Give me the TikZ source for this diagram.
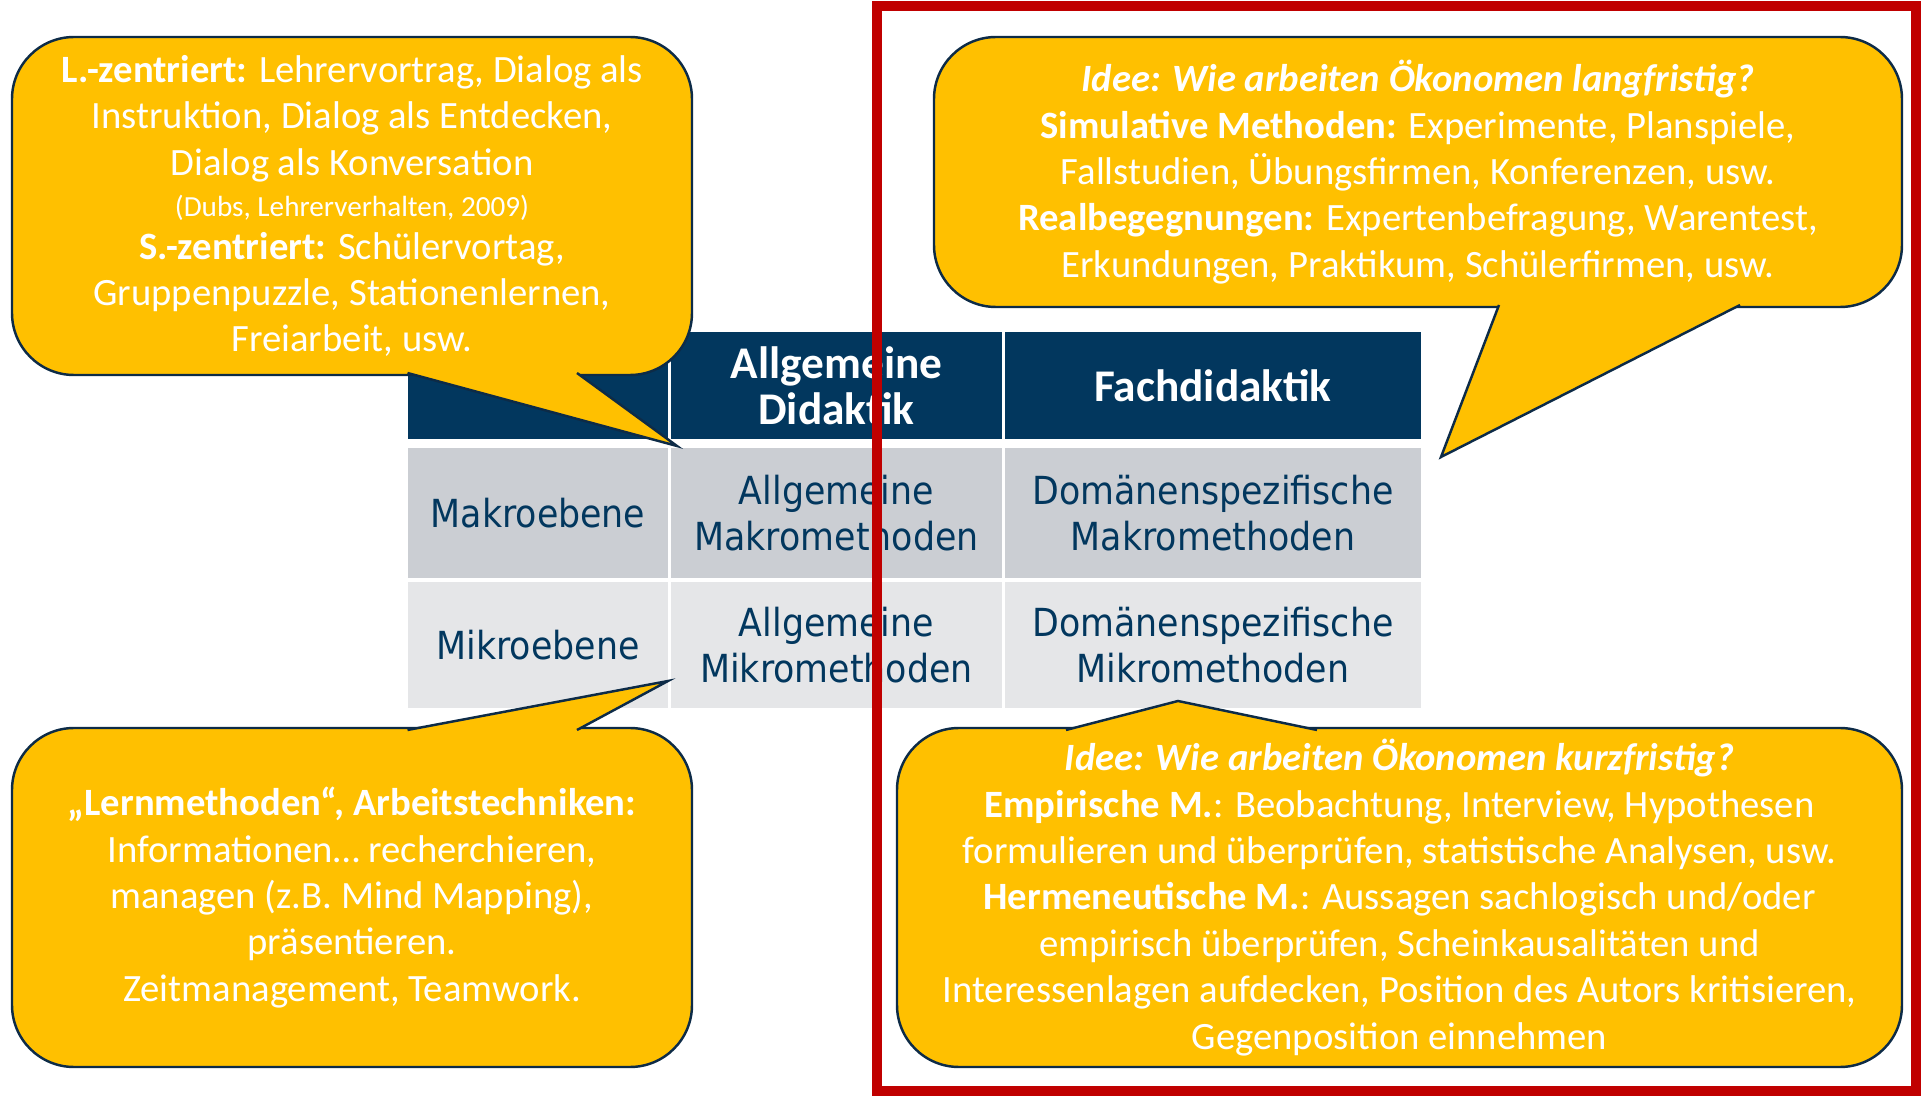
\documentclass[tikz,border=0pt]{standalone}
\usepackage{fontspec}
\setmainfont{Carlito}
\newfontfamily\tabfont{DejaVu Sans}[FakeStretch=0.9]

\definecolor{gold}{HTML}{FFC000}
\definecolor{navyline}{HTML}{0D2B47}
\definecolor{headblue}{HTML}{02375E}
\definecolor{makgray}{HTML}{CBCED3}
\definecolor{mikgray}{HTML}{E5E6E8}
\definecolor{framered}{HTML}{C00000}

\begin{document}
\begin{tikzpicture}[
    headcell/.style={fill=headblue, text=white, inner sep=0pt, align=center, minimum height=1.07cm, font=\bfseries\fontsize{12.9}{13.2}\selectfont},
    makcell/.style={fill=makgray, text=headblue, inner sep=0pt, align=center, minimum height=1.30cm, font=\tabfont\fontsize{11}{13.2}\selectfont},
    mikcell/.style={fill=mikgray, text=headblue, inner sep=0pt, align=center, minimum height=1.26cm, font=\tabfont\fontsize{11}{13.2}\selectfont},
    bubble/.style={draw=navyline, fill=gold, line width=0.7pt, rounded corners=0.62cm, text=white, inner sep=0pt, align=center, font=\fontsize{11}{13.2}\selectfont},
    tail/.style={draw=navyline, fill=gold, line width=0.7pt, line join=miter},
    redframe/.style={draw=framered, line width=0.1cm}
  ]
  \useasboundingbox (0,0) rectangle (19.21,10.96);

  % table
  \node[headcell, minimum width=2.60cm] (hd0) at (5.38,7.105) {};
  \node[headcell, minimum width=3.31cm] (hd1) at (8.365,7.105) {Allgemeine\\Didaktik};
  \node[headcell, minimum width=4.16cm] (hd2) at (12.13,7.105) {Fachdidaktik};

  \node[makcell, minimum width=2.60cm] (mak0) at (5.38,5.83) {Makroebene};
  \node[makcell, minimum width=3.31cm] (mak1) at (8.365,5.83) {Allgemeine\\Makromethoden};
  \node[makcell, minimum width=4.16cm] (mak2) at (12.13,5.83) {Domänenspezifische\\Makromethoden};

  \node[mikcell, minimum width=2.60cm] (mik0) at (5.38,4.51) {Mikroebene};
  \node[mikcell, minimum width=3.31cm] (mik1) at (8.365,4.51) {Allgemeine\\Mikromethoden};
  \node[mikcell, minimum width=4.16cm] (mik2) at (12.13,4.51) {Domänenspezifische\\Mikromethoden};

  % callouts
  \node[bubble, minimum width=6.80cm, minimum height=3.38cm] (lehrer) at (3.52,8.90)
    {\textbf{L.-zentriert:} Lehrervortrag, Dialog als\\
     Instruktion, Dialog als Entdecken,\\
     Dialog als Konversation\\[-1.5pt]
     {\fontsize{8.3}{9}\selectfont (Dubs, Lehrerverhalten, 2009)}\\[-1pt]
     \textbf{S.-zentriert:} Schülervortag,\\
     Gruppenpuzzle, Stationenlernen,\\
     Freiarbeit, usw.};
  \coordinate (lehrertip) at (6.77,6.50);
  \filldraw[tail] (4.075,7.23) -- (lehrertip) -- (5.77,7.23);

  \node[bubble, minimum width=6.80cm, minimum height=3.39cm] (lernen) at (3.52,1.985)
    {\textbf{„Lernmethoden“, Arbeitstechniken:}\\
     Informationen… recherchieren,\\
     managen (z.B. Mind Mapping),\\
     präsentieren.\\
     Zeitmanagement, Teamwork.};
  \coordinate (lernentip) at (6.68,4.15);
  \filldraw[tail] (4.075,3.66) -- (lernentip) -- (5.77,3.66);

  \node[bubble, minimum width=9.68cm, minimum height=2.70cm] (lang) at (14.18,9.24)
    {\textbf{\textit{Idee: Wie arbeiten Ökonomen langfristig?}}\\
     \textbf{Simulative Methoden:} Experimente, Planspiele,\\
     Fallstudien, Übungsfirmen, Konferenzen, usw.\\
     \textbf{Realbegegnungen:} Expertenbefragung, Warentest,\\
     Erkundungen, Praktikum, Schülerfirmen, usw.};
  \coordinate (langtip) at (14.41,6.39);
  \filldraw[tail] (14.99,7.91) -- (langtip) -- (17.40,7.91);

  \node[bubble, minimum width=10.05cm, minimum height=3.39cm] (kurz) at (13.995,1.985)
    {\textbf{\textit{Idee: Wie arbeiten Ökonomen kurzfristig?}}\\
     \textbf{Empirische M.}: Beobachtung, Interview, Hypothesen\\
     formulieren und überprüfen, statistische Analysen, usw.\\
     \textbf{Hermeneutische M.}: Aussagen sachlogisch und/oder\\
     empirisch überprüfen, Scheinkausalitäten und\\
     Interessenlagen aufdecken, Position des Autors kritisieren,\\
     Gegenposition einnehmen};
  \coordinate (kurztip) at (11.78,3.95);
  \filldraw[tail] (10.66,3.66) -- (kurztip) -- (13.17,3.66);

  % red frame
  \draw[redframe] (8.77,0.05) rectangle (19.16,10.90);
\end{tikzpicture}
\end{document}
